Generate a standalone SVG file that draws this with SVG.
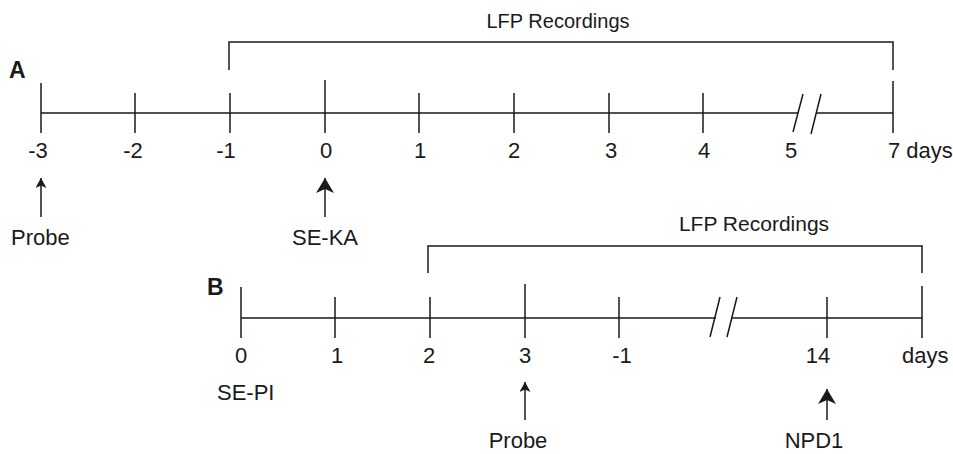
<svg xmlns="http://www.w3.org/2000/svg" width="953" height="454" viewBox="0 0 953 454">
<style>
  .ln{stroke:#1a1a1a;stroke-width:1.5;fill:none}
  .t{font-family:"Liberation Sans",Arial,sans-serif;font-size:22px;fill:#1a1a1a}
  .lfp{font-family:"Liberation Sans",Arial,sans-serif;font-size:20px;fill:#1a1a1a;text-anchor:middle}
  .c{text-anchor:middle}
  .hd{font-family:"Liberation Sans",Arial,sans-serif;font-size:23px;font-weight:bold;fill:#1a1a1a}
</style>
<defs>
  <marker id="ahs" markerUnits="userSpaceOnUse" viewBox="0 0 10 11" refX="10" refY="5.5" markerWidth="10" markerHeight="11" orient="auto">
    <path d="M0,0 L10,5.5 L0,11 L2.5,5.5 z" fill="#1a1a1a"/>
  </marker>
  <marker id="ahl" markerUnits="userSpaceOnUse" viewBox="0 0 15 18" refX="15" refY="9" markerWidth="15" markerHeight="18" orient="auto">
    <path d="M0,0 L15,9 L0,18 L4,9 z" fill="#1a1a1a"/>
  </marker>
</defs>

<g id="timelineA">
  <text class="hd" x="9" y="78">A</text>
  <path class="ln" d="M41,113 H798 M816,113 H893"/>
  <path class="ln" d="M803,94 L793,132 M821,94 L811,134"/>
  <path class="ln" d="M41,83 V133 M135,93 V133 M230,93 V133 M325,80 V133 M419,93 V133 M514,93 V133 M609,93 V133 M703,93 V133 M893,81 V133"/>
  <g id="labelsA">
    <text class="t c" x="38" y="158">-3</text>
    <text class="t c" x="133" y="158">-2</text>
    <text class="t c" x="226" y="158">-1</text>
    <text class="t c" x="326" y="158">0</text>
    <text class="t c" x="420" y="158">1</text>
    <text class="t c" x="514" y="158">2</text>
    <text class="t c" x="611" y="158">3</text>
    <text class="t c" x="704" y="158">4</text>
    <text class="t c" x="791" y="158">5</text>
    <text class="t" x="888" y="158">7 days</text>
  </g>
  <g id="lfpA">
    <path class="ln" d="M229,70 V42 H893 V70"/>
    <text class="lfp" x="558" y="28">LFP Recordings</text>
  </g>
  <g id="probeA">
    <text class="t" x="11" y="245">Probe</text>
  </g>
  <g id="sekaA">
    <text class="t c" x="325" y="245">SE-KA</text>
  </g>
</g>

<g id="timelineB">
  <text class="hd" x="207" y="295">B</text>
  <path class="ln" d="M241,318 H716 M732,318 H922"/>
  <path class="ln" d="M720,297 L710,337 M737,297 L727,337"/>
  <path class="ln" d="M241,287 V338 M335,297 V338 M430,297 V338 M525,284 V338 M619,297 V338 M827,297 V338 M922,286 V338"/>
  <g id="labelsB">
    <text class="t c" x="241" y="363">0</text>
    <text class="t c" x="337" y="363">1</text>
    <text class="t c" x="429" y="363">2</text>
    <text class="t c" x="525" y="363">3</text>
    <text class="t c" x="622" y="363">-1</text>
    <text class="t c" x="818" y="363">14</text>
    <text class="t" x="902" y="363">days</text>
  </g>
  <g id="lfpB">
    <path class="ln" d="M428,273 V246 H922 V273"/>
    <text class="lfp" x="754" y="231" style="font-size:21px">LFP Recordings</text>
  </g>
  <g id="sepiB">
    <text class="t" x="217" y="400">SE-PI</text>
  </g>
  <g id="probeB">
    <text class="t c" x="518" y="448">Probe</text>
  </g>
  <g id="npd1B">
    <text class="t c" x="814" y="448">NPD1</text>
  </g>
</g>

<g id="connectors">
  <line class="ln" x1="41" y1="217" x2="41" y2="178" marker-end="url(#ahs)"/>
  <line class="ln" x1="325" y1="217" x2="325" y2="178" marker-end="url(#ahl)"/>
  <line class="ln" x1="525" y1="420" x2="525" y2="382" marker-end="url(#ahs)"/>
  <line class="ln" x1="827" y1="420" x2="827" y2="389" marker-end="url(#ahl)"/>
</g>
</svg>
